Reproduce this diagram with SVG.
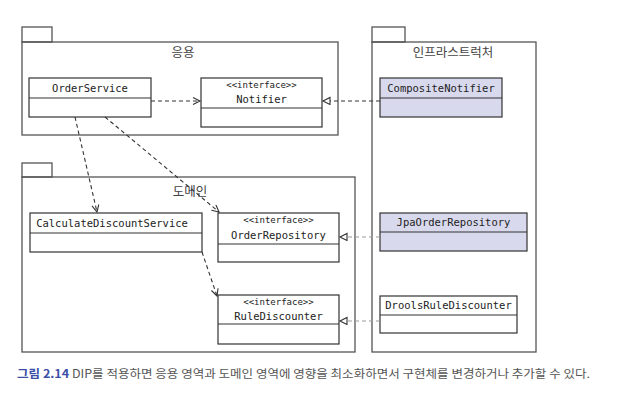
<svg xmlns="http://www.w3.org/2000/svg" width="624" height="393" viewBox="0 0 624 393">
<defs>
<style>
.pkg{fill:none;stroke:#555;stroke-width:1.3}
.box{fill:#fff;stroke:#333;stroke-width:1.2}
.impl{fill:#d9d9ee;stroke:#333;stroke-width:1.2}
.div{stroke:#333;stroke-width:1.2}
.cls{font-family:"DejaVu Sans Mono",monospace;font-size:10.5px;fill:#222;text-anchor:middle}
.ster{font-family:"DejaVu Sans Mono",monospace;font-size:9px;fill:#222;text-anchor:middle}
.plab{font-family:"Noto Sans CJK KR","Noto Sans",sans-serif;font-size:12.5px;fill:#444;text-anchor:middle}
.cap{font-family:"Noto Sans CJK KR","Noto Sans",sans-serif;font-size:11.5px;fill:#555}
.dep{fill:none;stroke:#333;stroke-width:1.1;stroke-dasharray:4,3}
.real{fill:none;stroke:#999;stroke-width:1.1;stroke-dasharray:4,3}
.realdk{fill:none;stroke:#333;stroke-width:1.1;stroke-dasharray:4,3}
</style>
<marker id="open" markerWidth="10" markerHeight="10" refX="8" refY="4" orient="auto" markerUnits="userSpaceOnUse">
<path d="M1,0.5 L8,4 L1,7.5" fill="none" stroke="#333" stroke-width="1.1"/>
</marker>
<marker id="tri" markerWidth="10" markerHeight="10" refX="8" refY="4" orient="auto" markerUnits="userSpaceOnUse">
<path d="M1,0.5 L8,4 L1,7.5 Z" fill="#fff" stroke="#333" stroke-width="1.1"/>
</marker>
</defs>
<rect width="624" height="393" fill="#fff"/>

<g id="pkg-app">
<rect class="pkg" x="22" y="27" width="30" height="15"/>
<rect class="pkg" x="22" y="42" width="316" height="93"/>
<text class="plab" x="183" y="57">응용</text>
</g>
<g id="pkg-infra">
<rect class="pkg" x="372" y="27" width="33" height="15"/>
<rect class="pkg" x="372" y="42" width="164" height="310"/>
<text class="plab" x="453" y="57">인프라스트럭처</text>
</g>
<g id="pkg-domain">
<rect class="pkg" x="22" y="163" width="30" height="14"/>
<rect class="pkg" x="22" y="177" width="333" height="175"/>
<text class="plab" x="190" y="196">도메인</text>
</g>

<g id="OrderService">
<rect class="box" x="29" y="78" width="122" height="39"/>
<line class="div" x1="29" y1="98" x2="151" y2="98"/>
<text class="cls" x="90" y="92">OrderService</text>
</g>
<g id="Notifier">
<rect class="box" x="201" y="78" width="121" height="49"/>
<line class="div" x1="201" y1="108" x2="322" y2="108"/>
<text class="ster" x="261.5" y="88">&lt;&lt;interface&gt;&gt;</text>
<text class="cls" x="261.5" y="103">Notifier</text>
</g>
<g id="CompositeNotifier">
<rect class="impl" x="380" y="78" width="122" height="39"/>
<line class="div" x1="380" y1="98" x2="502" y2="98"/>
<text class="cls" x="441" y="92">CompositeNotifier</text>
</g>
<g id="CalculateDiscountService">
<rect class="box" x="30" y="213" width="172" height="39"/>
<line class="div" x1="30" y1="233" x2="202" y2="233"/>
<text class="cls" x="112" y="227">CalculateDiscountService</text>
</g>
<g id="OrderRepository">
<rect class="box" x="218" y="213" width="121" height="49"/>
<line class="div" x1="218" y1="244" x2="339" y2="244"/>
<text class="ster" x="278.5" y="223">&lt;&lt;interface&gt;&gt;</text>
<text class="cls" x="278.5" y="239">OrderRepository</text>
</g>
<g id="JpaOrderRepository">
<rect class="impl" x="380" y="213" width="147" height="38"/>
<line class="div" x1="380" y1="232" x2="527" y2="232"/>
<text class="cls" x="453.5" y="226">JpaOrderRepository</text>
</g>
<g id="RuleDiscounter">
<rect class="box" x="218" y="295" width="121" height="49"/>
<line class="div" x1="218" y1="324" x2="339" y2="324"/>
<text class="ster" x="278.5" y="305">&lt;&lt;interface&gt;&gt;</text>
<text class="cls" x="278.5" y="320">RuleDiscounter</text>
</g>
<g id="DroolsRuleDiscounter">
<rect class="box" x="380" y="296" width="137" height="37"/>
<line class="div" x1="380" y1="315" x2="517" y2="315"/>
<text class="cls" x="448.5" y="309">DroolsRuleDiscounter</text>
</g>

<g id="connectors">
<line class="dep" x1="151" y1="101" x2="200" y2="101" marker-end="url(#open)"/>
<line class="realdk" x1="380" y1="101" x2="323" y2="101" marker-end="url(#tri)"/>
<line class="dep" x1="75" y1="117" x2="97" y2="212" marker-end="url(#open)"/>
<line class="dep" x1="105" y1="117" x2="219" y2="212" marker-end="url(#open)"/>
<line class="dep" x1="202" y1="252" x2="217" y2="296" marker-end="url(#open)"/>
<line class="real" x1="380" y1="237" x2="340" y2="237" marker-end="url(#tri)"/>
<line class="real" x1="380" y1="321" x2="340" y2="321" marker-end="url(#tri)"/>
</g>

<text class="cap" x="17" y="378" textLength="573" lengthAdjust="spacingAndGlyphs"><tspan fill="#3b4fa6" font-weight="bold">그림 2.14</tspan> DIP를 적용하면 응용 영역과 도메인 영역에 영향을 최소화하면서 구현체를 변경하거나 추가할 수 있다.</text>
</svg>
